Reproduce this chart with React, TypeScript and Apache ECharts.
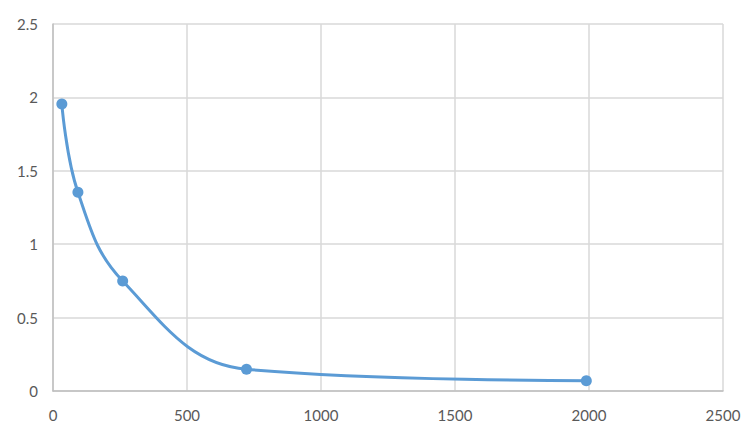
import React, { useEffect, useRef } from "react";
import * as echarts from "echarts";

const concentrations = [33, 93, 260, 722, 1990];
const odValues = [1.955, 1.354, 0.749, 0.148, 0.07];
const xTicks = [0, 500, 1000, 1500, 2000, 2500];
const yTicks = [0, 0.5, 1, 1.5, 2, 2.5];

export default function App() {
  const ref = useRef<HTMLDivElement>(null);
  useEffect(() => {
    if (!ref.current) return;
    const chart = echarts.init(ref.current, undefined, { renderer: "svg" });
    const font = "Lato, 'Open Sans', sans-serif";
    chart.setOption({
      animation: false,
      backgroundColor: "#ffffff",
      grid: { left: 53, top: 24, right: 31, bottom: 52, containLabel: false },
      xAxis: {
        type: "value",
        min: xTicks[0],
        max: xTicks[xTicks.length - 1],
        interval: 500,
        axisLine: { show: true, lineStyle: { color: "#bfbfbf", width: 1.5 } },
        axisTick: { show: false },
        splitLine: { show: true, lineStyle: { color: "#d9d9d9", width: 1.5 } },
        axisLabel: {
          color: "#595959",
          fontSize: 15,
          fontFamily: font,
          margin: 16,
          formatter: (v: number) => String(v),
        },
      },
      yAxis: {
        type: "value",
        min: yTicks[0],
        max: yTicks[yTicks.length - 1],
        interval: 0.5,
        axisLine: { show: true, lineStyle: { color: "#bfbfbf", width: 1.5 } },
        axisTick: { show: false },
        splitLine: { show: true, lineStyle: { color: "#d9d9d9", width: 1.5 } },
        axisLabel: {
          color: "#595959",
          fontSize: 15,
          fontFamily: font,
          margin: 15,
          formatter: (v: number) => String(v),
        },
      },
      series: [
        {
          type: "line",
          data: concentrations.map((c, i) => [c, odValues[i]]),
          smooth: 0.4,
          symbol: "circle",
          symbolSize: 11,
          itemStyle: { color: "#5b9bd5" },
          lineStyle: { color: "#5b9bd5", width: 3 },
        },
      ],
    });
    return () => chart.dispose();
  }, []);
  return (
    <div
      style={{
        position: "fixed",
        left: 0,
        top: 0,
        width: 754,
        height: 443,
        boxSizing: "border-box",
        border: "1px solid #d9d9d9",
        background: "#fff",
      }}
    >
      <div ref={ref} style={{ position: "absolute", left: -1, top: -1, width: 754, height: 443 }} />
    </div>
  );
}
